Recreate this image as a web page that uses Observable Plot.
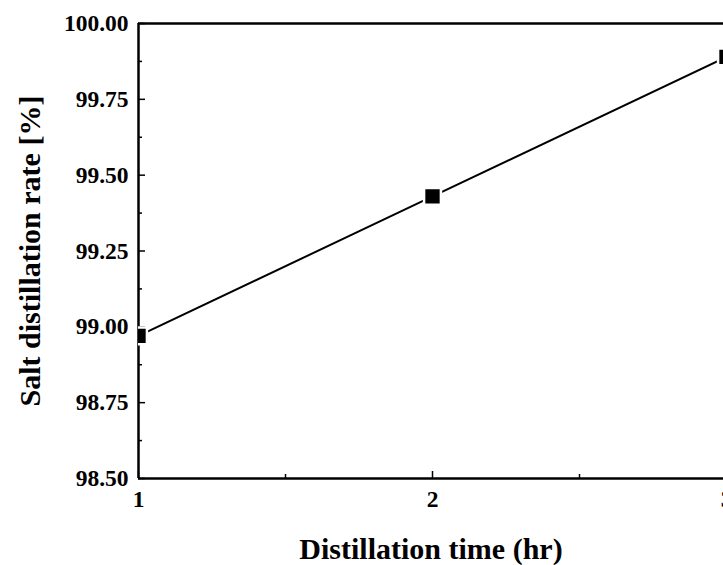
<!DOCTYPE html>
<html>
<head>
<meta charset="utf-8">
<script src="https://cdn.jsdelivr.net/npm/d3@7"></script>
<script src="https://cdn.jsdelivr.net/npm/@observablehq/plot@0.6"></script>
<style>
  html, body { margin: 0; padding: 0; background: white; overflow: hidden; }
</style>
</head>
<body>
<div id="chart"></div>
<script>
const times = [1, 2, 3];
const rates = [98.97, 99.43, 99.89];
const yTicks = [98.5, 98.75, 99.0, 99.25, 99.5, 99.75, 100.0];
const yMinorTicks = [98.625, 98.875, 99.125, 99.375, 99.625, 99.875];
const xTicks = [1, 2, 3];
const xMinorTicks = [1.5, 2.5];
const xTitle = "Distillation time (hr)";
const yTitle = "Salt distillation rate [%]";

const data = times.map((t, i) => ({t, r: rates[i]}));

const chart = Plot.plot({
  width: 723,
  height: 565,
  marginLeft: 138,
  marginRight: 0,
  marginTop: 23,
  marginBottom: 87,
  x: {domain: [1, 3], range: [138, 726]},
  y: {domain: [98.5, 100]},
  style: {fontFamily: "'Liberation Serif', 'DejaVu Serif', serif", fontWeight: "bold", fontSize: "23.5px", background: "white", color: "black"},
  marks: [
    Plot.axisY(yTicks, {tickSize: -7, tickPadding: 17, tickFormat: d => d.toFixed(2), label: null, strokeWidth: 1.5}),
    Plot.axisY(yMinorTicks, {tickSize: -4, tickFormat: () => "", label: null, strokeWidth: 1.5}),
    Plot.axisX(xTicks, {tickSize: -7, tickPadding: 19, tickFormat: d => String(d), label: null, strokeWidth: 1.5}),
    Plot.axisX(xMinorTicks, {tickSize: -4, tickFormat: () => "", label: null, strokeWidth: 1.5}),
    Plot.ruleY([yTicks[0], yTicks[yTicks.length - 1]], {strokeWidth: 2.5}),
    Plot.ruleX([xTicks[0], xTicks[xTicks.length - 1]], {strokeWidth: 2.5}),
    Plot.line(data, {x: "t", y: "r", stroke: "black", strokeWidth: 2, clip: true}),
    Plot.dot(data, {x: "t", y: "r", symbol: "square", r: 9.5, fill: "black", stroke: "white", strokeWidth: 2.5, clip: true}),
    Plot.text([xTitle], {frameAnchor: "bottom", dy: 71, fontSize: 30, textAnchor: "middle", lineAnchor: "middle"}),
    Plot.text([yTitle], {frameAnchor: "left", dx: -108, rotate: -90, fontSize: 30, textAnchor: "middle", lineAnchor: "middle"})
  ]
});
document.getElementById("chart").append(chart);
</script>
</body>
</html>
